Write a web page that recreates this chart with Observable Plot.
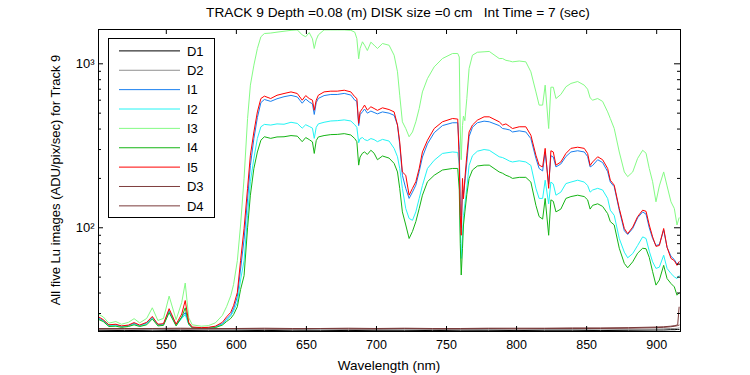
<!DOCTYPE html>
<html><head><meta charset="utf-8">
<script src="https://cdn.jsdelivr.net/npm/d3@7"></script>
<script src="https://cdn.jsdelivr.net/npm/@observablehq/plot@0.6"></script>
<style>
html,body{margin:0;padding:0;background:#fff;}
#wrap{position:relative;width:750px;height:375px;}
</style></head><body><div id="wrap"></div>
<script>
// Wavelength grid (nm) for the five Lu images
const wl = [502,505,509,514,518,523,527,531,536,540,544,548,552,557,561,563.5,566,568.5,575,580,585,590,593,596,598,600.7,603,605.5,608,610,612.5,615,617.5,620,624.5,629,634,639,643.5,647,649.5,652,654.3,655.6,657,658.5,662.6,667.4,672,677,681.7,684.5,686,687.3,688.3,690,691.5,693.5,696,698.3,700.7,704.3,709,712.6,715,716.6,718.5,720.9,723.3,725.7,728.1,730.5,732.8,736.4,741.2,747.1,754.3,758,759.1,759.8,760.5,761.4,762.1,763.1,764.5,766.1,768.5,772,776.8,780.5,787.6,790,792.4,795,797.1,801.9,806.6,810.2,813.8,816.1,818.6,820.4,822.9,824.5,826.2,828.1,831.6,835.2,838.8,843.6,848.3,850.7,852.5,854.3,857.9,861.4,865,866.9,869.7,873.3,876.9,879.3,882.9,886.4,890,892.4,894.7,897.1,899.5,901.9,905,907.4,910.2,912.6,914.5,916];

const I1 = [28.0,27.2,25.4,25.6,25.0,25.3,26.1,25.3,26.2,28.4,25.6,25.8,31.3,25.6,28.5,30.4,26.0,24.7,24.5,24.6,24.9,26.0,27.8,29.5,32.0,38,56,85,150,240,350,470,580,606,590,612,630,642,628,575,610,585,570,491,580,615,640,650,650,660,645,600,590,420,490,510,530,500,515,505,495,509,500,485,423,320,209,174,151,165,182,220,270,325,380,420,437,437,300,140,100,170,160,190,250,360,410,437,447,443,420,403,400,395,384,390,384,350,265,230,222,290,185,275,270,235,245,272,290,295,290,272,235,240,260,250,220,190,178,128,96,91,99,115,125,121,100,86,78,79,97,76,67,64,60,62];

const I2 = [27.8,27.0,25.3,25.4,24.9,25.2,25.9,25.2,26.0,28.1,25.5,25.6,30.8,25.4,28.0,29.5,25.8,24.6,24.4,24.5,24.8,25.8,27.3,29.0,31.0,35,48,63,119,191,265,351,413,427,423,430,428,440,433,405,425,415,405,351,410,430,440,448,450,455,448,425,410,330,350,355,345,340,350,345,335,346,338,305,271,230,174,131,114,111,125,151,181,230,258,284,290,288,240,100,65,90,119,140,175,240,275,293,300,297,271,268,262,255,252,256,252,240,174,151,151,195,140,190,185,158,165,186,190,195,190,181,165,170,174,170,151,128,119,86,71,65.6,69.6,78,88,86,72,62,56.5,57.5,68,56.5,52.6,50.2,49,51];

const I3 = [29.6,28.6,26.2,26.8,25.8,26.5,27.9,26.3,28.0,32.5,27.2,28.0,38.3,27.5,35.0,46.0,28.3,25.6,25.1,25.3,26.3,29.2,33.0,38.5,45,63,104,200,464,741,981,1240,1462,1530,1540,1560,1580,1600,1610,1500,1462,1550,1420,1240,1400,1500,1610,1610,1610,1610,1600,1560,1426,1073,1240,1362,1300,1205,1355,1300,1240,1330,1298,1128,894,643,443,403,359,384,443,534,674,813,958,1077,1156,1156,1100,400,260,420,480,450,614,936,1128,1176,1184,1190,1077,1077,1050,1040,1028,1040,1028,894,674,560,560,741,403,720,720,614,650,724,759,780,741,700,620,600,614,590,509,464,403,290,219,205,219,265,297,285,230,191,144,180,219,180,144,131,104,115];

const I4 = [27.5,26.8,25.0,25.1,24.7,25.0,25.6,25.0,25.6,27.8,25.2,25.4,30.4,25.2,28.5,32.5,25.8,24.5,24.3,24.4,24.6,25.5,26.8,28.0,29.5,33,42,51,100,158,230,290,342,359,351,358,359,365,362,335,355,345,334,284,340,358,365,370,371,375,368,350,335,241,270,285,290,280,297,285,260,274,266,247,219,174,125,104,86,95,109,131,158,191,209,225,230,230,170,80,51.5,75,104,125,160,200,225,238,241,241,219,215,209,205,200,203,203,190,137,117,113,151,90,148,145,125,130,151,155,158,155,148,130,137,140,135,122,109,104,75,60.6,57,62,70,75,74.5,66,54,44.7,48,59,49,45.7,43.6,38.8,40];

const I5 = [28.5,27.5,25.6,25.8,25.2,25.5,26.4,25.5,26.5,28.8,25.8,26.0,32.1,25.8,29.8,36.0,26.5,24.8,24.6,24.7,25.1,26.5,28.6,30.5,33.5,40.3,63,99,174,277,384,509,614,635,614,643,659,674,659,600,640,614,600,521,600,643,674,681,681,690,674,630,614,433,509,534,560,522,547,534,520,539,526,509,423,334,219,209,158,174,191,230,290,342,403,443,464,460,252,119,90,200,150,200,277,384,423,453,475,475,443,423,430,415,403,413,413,367,277,241,235,305,174,295,290,241,252,284,305,310,305,284,240,252,271,260,230,195,182,131,99,92,101,117,128,126,104,88,77,78,99,76,65,63,59,62];

// Dark images
const wlDark = [502,520,540,560,580,600,620,640,660,680,700,720,740,760,780,800,820,840,860,880,900,905,910,913,915,916];
const D1 = [23.7,23.6,23.7,23.6,23.7,23.7,23.6,23.7,23.7,23.6,23.7,23.7,23.6,23.7,23.7,23.6,23.7,23.7,23.6,23.7,23.8,23.8,23.9,23.9,24.0,24.0];
const D2 = [24.0,24.1,23.9,24.0,24.1,24.0,24.0,23.9,24.1,24.0,24.0,24.1,24.0,23.9,24.0,24.1,24.0,24.0,24.1,24.0,24.1,24.2,24.3,24.3,24.4,24.5];
const D3 = [24.2,24.2,24.3,24.2,24.2,24.3,24.2,24.2,24.3,24.2,24.2,24.3,24.2,24.2,24.3,24.2,24.3,24.3,24.3,24.4,24.6,24.7,24.9,25.1,25.3,25.5];
const D4 = [24.3,24.3,24.3,24.4,24.3,24.3,24.4,24.3,24.3,24.4,24.3,24.4,24.3,24.3,24.4,24.4,24.4,24.5,24.5,24.6,24.8,24.9,25.1,25.3,25.6,32.8];

const seriesNames = ["D1","D2","I1","I2","I3","I4","I5","D3","D4"];
const seriesColors = ["#000000","#909090","#1a7fef","#22f4f4","#84fb84","#14b414","#ff0000","#7f3f3f","#7a3a3a"];

const xTickValues = [550,600,650,700,750,800,850,900];
const yMajorTicks = [100,1000];
const yTickLabels = ["10²","10³"];
const yMinorTicks = [30,40,50,60,70,80,90,200,300,400,500,600,700,800,900];

const titleText = "TRACK 9 Depth =0.08 (m) DISK size =0 cm   Int Time = 7 (sec)";
const xLabelText = "Wavelength (nm)";
const yLabelText = "All five Lu images (ADU/pix/sec) for Track 9";

const W = 750, H = 375, mL = 98, mR = 70, mT = 29, mB = 44;
const pw = W - mL - mR, ph = H - mT - mB;

const seriesValues = {D1, D2, I1, I2, I3, I4, I5, D3, D4};
const rows = [];
for (const name of seriesNames) {
  const xs = name[0] === "D" ? wlDark : wl;
  seriesValues[name].forEach((v, i) => rows.push({series: name, wl: xs[i], v}));
}

const font = "'Liberation Sans', Arial, Helvetica, sans-serif";

const chart = Plot.plot({
  width: W, height: H,
  marginLeft: mL, marginRight: mR, marginTop: mT, marginBottom: mB,
  style: {fontFamily: font, fontSize: "12.5px", background: "#fff", color: "#000", overflow: "visible"},
  x: {domain: [501.6, 917]},
  y: {type: "log", domain: [23.3, 1619]},
  color: {domain: seriesNames, range: seriesColors},
  marks: [
    Plot.lineY(rows, {x: "wl", y: "v", z: "series", stroke: "series", strokeWidth: 1, clip: true}),
    Plot.frame({stroke: "#000", strokeWidth: 1}),
    Plot.ruleX(xTickValues, {x: d => d, insetTop: ph - 5, stroke: "#000"}),
    Plot.ruleX(xTickValues, {x: d => d, insetBottom: ph - 5, stroke: "#000"}),
    Plot.ruleY(yMajorTicks, {y: d => d, insetRight: pw - 5, stroke: "#000"}),
    Plot.ruleY(yMajorTicks, {y: d => d, insetLeft: pw - 6, stroke: "#000"}),
    Plot.ruleY(yMinorTicks, {y: d => d, insetRight: pw - 3, stroke: "#000"}),
    Plot.ruleY(yMinorTicks, {y: d => d, insetLeft: pw - 3, stroke: "#000"}),
    Plot.axisX(xTickValues, {anchor: "bottom", tickSize: 0, tickPadding: 9, label: null, fontSize: 12.5}),
    Plot.axisY(yMajorTicks, {anchor: "left", tickSize: 0, tickPadding: 4, label: null, fontSize: 13,
      tickFormat: d => yTickLabels[yMajorTicks.indexOf(d)]})
  ]
});

document.getElementById("wrap").appendChild(chart);
const svg = d3.select(chart);

svg.append("text")
  .attr("x", 398).attr("y", 17)
  .attr("text-anchor", "middle")
  .style("white-space", "pre")
  .attr("xml:space", "preserve")
  .attr("font-family", font).attr("font-size", 13.7)
  .text(titleText);

svg.append("text")
  .attr("x", mL + pw / 2).attr("y", 370)
  .attr("text-anchor", "middle")
  .attr("font-family", font).attr("font-size", 13.5)
  .text(xLabelText);

svg.append("text")
  .attr("transform", `translate(60,${mT + ph / 2}) rotate(-90)`)
  .attr("text-anchor", "middle")
  .attr("font-family", font).attr("font-size", 13)
  .text(yLabelText);

// Legend
const lg = svg.append("g").attr("transform", "translate(108.5,38.5)");
lg.append("rect").attr("width", 106).attr("height", 179).attr("fill", "#fff").attr("stroke", "#000");
seriesNames.forEach((name, i) => {
  const yy = 12.4 + i * 19.37;
  lg.append("line").attr("x1", 10.5).attr("x2", 71.5).attr("y1", yy).attr("y2", yy)
    .attr("stroke", seriesColors[i]).attr("stroke-width", 1);
  lg.append("text").attr("x", 78.4).attr("y", yy).attr("dy", "0.36em")
    .attr("text-anchor", "start")
    .attr("font-family", font).attr("font-size", 13).text(name);
});
</script></body></html>
